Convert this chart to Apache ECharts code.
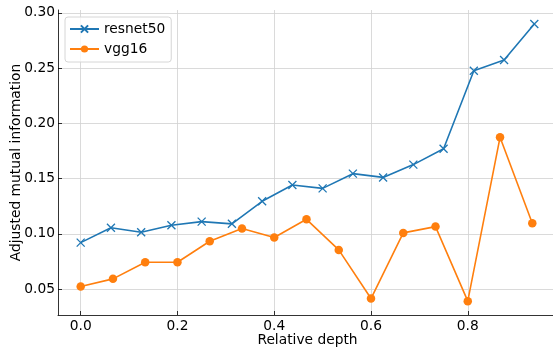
<!DOCTYPE html>
<html>
<head>
<meta charset="utf-8">
<script src="https://cdn.jsdelivr.net/npm/echarts@6/dist/echarts.min.js"></script>
<style>
  html, body { margin: 0; padding: 0; background: #fff; }
  #chart { width: 553px; height: 349px; }
</style>
</head>
<body>
<div id="chart"></div>
<script>
// Relative depth of each probed layer
const resnetDepth = [0, 0.0625, 0.125, 0.1875, 0.25, 0.3125, 0.375, 0.4375, 0.5, 0.5625, 0.625, 0.6875, 0.75, 0.8125, 0.875, 0.9375];
const resnetAMI = [0.092, 0.1054, 0.1014, 0.1077, 0.111, 0.109, 0.1294, 0.1442, 0.1411, 0.1544, 0.151, 0.1626, 0.177, 0.2476, 0.2572, 0.2898];

const vggDepth = [0, 1/15, 2/15, 3/15, 4/15, 5/15, 6/15, 7/15, 8/15, 9/15, 10/15, 11/15, 12/15, 13/15, 14/15];
const vggAMI = [0.0523, 0.0592, 0.0742, 0.0742, 0.0932, 0.1047, 0.0966, 0.1131, 0.0854, 0.0414, 0.1008, 0.1065, 0.039, 0.1873, 0.1095];

const xTicks = [0, 0.2, 0.4, 0.6, 0.8];
const yTicks = [0.05, 0.10, 0.15, 0.20, 0.25, 0.30];

const font = 'DejaVu Sans';
const fontSize = 13.8;
const blue = '#1f77b4';
const orange = '#ff7f0e';
const crossPath = 'path://M0,0L10,10M10,0L0,10';

const pairs = (xs, ys) => xs.map((x, i) => [x, ys[i]]);

const chart = echarts.init(document.getElementById('chart'), null, { renderer: 'canvas' });

const axisCommon = {
  type: 'value',
  axisLine: { show: true, onZero: false, lineStyle: { color: '#000', width: 0.8 } },
  axisTick: { show: true, inside: true, length: 4, lineStyle: { color: '#000', width: 0.8 } },
  splitLine: { show: true, lineStyle: { color: '#d0d0d0', width: 0.8 } },
  nameLocation: 'middle',
  nameMoveOverlap: false,
  nameTextStyle: { fontFamily: font, fontSize: fontSize, color: '#000' }
};

chart.setOption({
  animation: false,
  backgroundColor: '#fff',
  grid: { left: 58, top: 10, width: 499, height: 305, containLabel: false, outerBoundsMode: 'none' },
  xAxis: Object.assign({}, axisCommon, {
    min: -0.0469,
    max: 0.9844,
    name: 'Relative depth',
    nameGap: 18,
    axisTick: Object.assign({}, axisCommon.axisTick, { customValues: xTicks }),
    axisLabel: {
      customValues: xTicks, margin: 4,
      fontFamily: font, fontSize: fontSize, color: '#000',
      formatter: v => v.toFixed(1)
    },
    splitLine: Object.assign({}, axisCommon.splitLine, { customValues: xTicks })
  }),
  yAxis: Object.assign({}, axisCommon, {
    min: 0.0265,
    max: 0.3025,
    name: 'Adjusted mutual information',
    nameGap: 35,
    axisTick: Object.assign({}, axisCommon.axisTick, { customValues: yTicks }),
    axisLabel: {
      customValues: yTicks, margin: 3,
      fontFamily: font, fontSize: fontSize, color: '#000',
      formatter: v => v.toFixed(2)
    },
    splitLine: Object.assign({}, axisCommon.splitLine, { customValues: yTicks })
  }),
  legend: {
    orient: 'vertical',
    left: 65,
    top: 17,
    padding: [4, 6, 5, 4],
    itemGap: 4,
    itemWidth: 29,
    itemHeight: 9,
    borderColor: '#d6d6d6',
    borderWidth: 1,
    borderRadius: 3,
    backgroundColor: 'rgba(255,255,255,0.8)',
    textStyle: { fontFamily: font, fontSize: fontSize, color: '#000', lineHeight: 16 },
    data: ['resnet50', 'vgg16']
  },
  series: [
    {
      name: 'resnet50',
      type: 'line',
      data: pairs(resnetDepth, resnetAMI),
      symbol: crossPath,
      symbolSize: 8,
      showAllSymbol: true,
      lineStyle: { color: blue, width: 1.6 },
      itemStyle: { color: blue, borderColor: blue, borderWidth: 1.3 },
      z: 3
    },
    {
      name: 'vgg16',
      type: 'line',
      data: pairs(vggDepth, vggAMI),
      symbol: 'circle',
      symbolSize: 8.5,
      showAllSymbol: true,
      lineStyle: { color: orange, width: 1.6 },
      itemStyle: { color: orange, borderWidth: 0 },
      z: 4
    }
  ]
});
</script>
</body>
</html>
